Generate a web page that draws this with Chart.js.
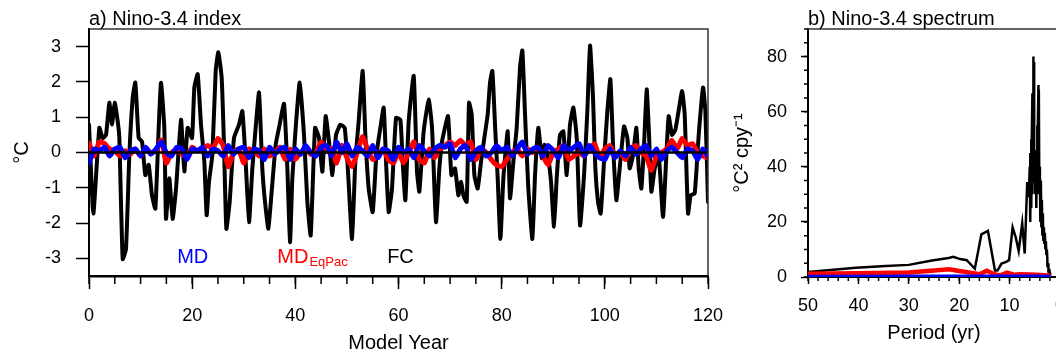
<!DOCTYPE html>
<html>
<head>
<meta charset="utf-8">
<script src="https://cdn.jsdelivr.net/npm/chart.js@4.4.1/dist/chart.umd.min.js"></script>
<style>
  html, body { margin: 0; padding: 0; background: #fff; overflow: hidden; width: 1056px; height: 355px; }
  #panelA { position: absolute; left: 0; top: 0; }
  #panelB { position: absolute; left: 720px; top: 0; }
</style>
</head>
<body>
<canvas id="panelA" width="730" height="355"></canvas>
<canvas id="panelB" width="400" height="355"></canvas>
<script>
// nino-3.4 index (a) and its spectrum (b)

const FONT = '"Liberation Sans", Arial, Helvetica, sans-serif';

const fcYears = [
    0.0, 0.84, 2.0, 2.65, 3.3, 3.94, 4.46, 4.98, 5.56, 5.88, 6.53, 7.17, 7.82, 8.47, 8.98, 9.63,
    10.28, 10.92, 11.57, 12.21, 12.86, 13.51, 13.96, 14.6, 14.93, 15.57, 16.22, 16.87, 17.84, 18.48,
    19.13, 19.97, 20.42, 21.07, 21.71, 22.36, 22.81, 23.26, 23.91, 24.56, 25.07, 25.72, 26.17, 26.63,
    27.27, 28.11, 29.08, 29.73, 30.37, 31.02, 31.67, 32.31, 32.96, 33.6, 34.12, 34.77, 35.41, 36.19,
    36.84, 37.81, 38.45, 38.97, 39.42, 40.07, 40.84, 41.68, 42.33, 42.98, 43.82, 44.59, 45.24, 45.88,
    46.53, 47.18, 47.89, 48.73, 49.57, 50.21, 50.99, 51.63, 52.28, 53.06, 53.57, 54.22, 55.0, 55.71,
    56.48, 57.13, 57.64, 58.1, 58.74, 59.52, 60.36, 60.81, 61.33, 61.98, 62.95, 63.59, 64.04, 64.88,
    65.85, 66.5, 67.27, 67.92, 68.44, 69.6, 70.25, 70.96, 71.6, 72.12, 72.57, 73.22, 73.67, 74.19,
    74.71, 75.35, 76.0, 76.64, 77.29, 77.74, 78.2, 78.71, 79.23, 79.75, 80.33, 81.17, 81.62, 82.27,
    82.91, 83.56, 84.01, 84.53, 85.17, 85.95, 86.47, 87.11, 87.76, 88.28, 88.92, 89.57, 90.15, 90.67,
    91.31, 91.96, 92.61, 93.25, 93.9, 94.55, 95.2, 95.97, 96.61, 97.13, 97.71, 98.16, 98.68, 99.2,
    99.84, 100.49, 101.07, 101.59, 102.24, 102.88, 103.72, 104.37, 104.82, 105.47, 106.11, 106.57,
    107.08, 107.6, 108.12, 108.57, 109.02, 109.67, 110.44, 111.28, 111.93, 112.38, 113.03, 113.67,
    114.19, 114.97, 115.48, 116.13, 116.65, 117.42, 118.2, 119.04, 119.49, 120.0
];
const fcIndex = [
    0.79, -1.73, 0.70, 0.41, 0.50, 1.41, 0.79, 1.41, 0.89, 0.41, -3.02, -2.73, -0.07, 1.55, 1.98, 0.41,
    0.31, -0.64, -0.35, -1.21, -1.59, 0.70, 1.98, 0.70, -1.88, -0.73, -1.88, -1.02, 0.93, -0.54,
    0.70, 0.41, 1.84, 2.22, 0.79, -0.26, -1.78, -0.83, -0.07, 2.31, 2.84, 2.12, 0.22, -2.16,
    -1.40, 0.41, 0.79, 1.17, -0.26, -1.97, -0.45, 0.70, 1.70, -0.45, -1.40, -2.16, -1.11, 0.22,
    0.70, 1.38, -0.45, -2.54, -0.73, 0.70, 1.98, 0.50, -1.40, -2.35, 0.70, 0.41, -0.54, 1.03,
    0.31, -0.64, 0.50, 0.79, 0.70, -0.54, -2.45, -0.26, 0.89, 2.31, 0.50, -1.02, -1.69, -0.07,
    0.70, 1.27, -0.45, -1.69, -1.02, 0.98, 0.93, -0.26, -1.35, 0.89, 2.17, -0.54, -1.11, 0.60,
    1.50, 0.70, -1.97, -0.45, 0.31, 1.03, -0.64, -0.45, -1.21, -0.83, -1.21, -1.40, 1.41, 1.08,
    -0.64, -1.02, -0.26, 0.41, 1.08, 1.98, 2.31, 0.79, -0.73, -2.45, -0.73, 0.60, -1.30, -0.26,
    0.70, 2.41, 2.89, 1.08, -1.02, -2.45, -0.64, 0.70, -0.16, 0.22, -0.07, -0.83, -2.10, -0.73,
    0.50, 0.60, -0.64, 0.79, 1.27, 0.41, -2.07, -0.64, 1.17, 3.03, 1.55, -0.45, -1.40, -1.73,
    -0.26, 1.17, 2.08, 0.22, -1.35, -0.45, 0.74, 0.41, -0.45, -0.07, 0.70, -0.45,
    -1.02, 0.22, 1.79, 0.50, -1.11, -0.45, -0.07, -1.83, -0.07, 1.03, 0.50, 0.65,
    1.08, 1.74, 1.08, -1.73, -1.21, -1.16, 0.50, 1.84, 1.17, -1.40
];

// MD runs, one reading per model year
const modelYears = Array.from({ length: 121 }, (_, i) => i);
const mdEqPacIndex = [
    0.27, -0.1, 0.3, 0.25, 0.1, 0.05, -0.1, 0.05, -0.05, 0.1,
    -0.1, 0.1, 0.0, 0.05, 0.35, -0.3, 0.0, 0.1, -0.05, -0.1,
    0.15, 0.05, 0.1, 0.2, 0.1, 0.4, 0.2, -0.4, 0.0, 0.1,
    -0.3, 0.1, 0.05, -0.1, 0.1, -0.1, 0.0, 0.15, -0.2, 0.1,
    -0.2, 0.0, 0.1, -0.05, 0.0, 0.3, 0.1, 0.1, -0.3, 0.2,
    -0.15, -0.4, 0.0, 0.45, 0.1, -0.2, -0.1, 0.1, -0.2, -0.3,
    0.0, -0.3, 0.0, 0.3, -0.2, -0.3, 0.1, -0.15, 0.1, 0.2,
    0.3, 0.2, 0.35, 0.2, 0.3, -0.2, 0.1, 0.0, -0.2, -0.35,
    -0.4, -0.2, 0.0, 0.1, -0.1, 0.1, 0.0, 0.1, -0.1, -0.35,
    0.0, 0.1, 0.2, -0.2, -0.1, 0.0, -0.1, 0.1, 0.25, -0.15,
    0.1, 0.2, -0.1, 0.0, -0.2, 0.1, 0.2, 0.0, -0.1, -0.5,
    -0.1, 0.0, 0.1, 0.35, 0.1, 0.4, 0.2, 0.25, 0.0, -0.1,
    -0.15
];
const mdIndex = [
    -0.3, 0.1, 0.05, 0.15, -0.1, 0.1, 0.15, -0.15, 0.05, 0.1,
    -0.1, 0.15, -0.05, 0.1, 0.3, 0.0, -0.1, 0.15, 0.1, -0.2,
    0.1, 0.05, 0.15, -0.1, 0.1, 0.05, -0.1, 0.2, -0.05, 0.1,
    0.15, -0.15, 0.1, 0.05, -0.2, 0.15, -0.05, 0.1, 0.15, -0.2,
    0.1, -0.05, 0.2, 0.0, -0.1, 0.15, 0.2, -0.1, 0.3, 0.0,
    0.25, -0.1, 0.15, 0.05, -0.1, 0.2, -0.15, 0.1, 0.05, -0.2,
    0.15, 0.0, 0.1, -0.15, 0.2, 0.05, -0.1, 0.1, 0.2, 0.15,
    0.25, -0.15, 0.1, 0.2, -0.2, 0.05, 0.15, -0.1, 0.0, 0.2,
    0.05, 0.15, -0.1, 0.1, 0.3, -0.05, 0.1, 0.15, -0.1, 0.2,
    0.05, -0.15, 0.2, 0.05, 0.15, 0.25, -0.1, 0.2, 0.0, -0.15,
    -0.2, 0.1, -0.15, 0.05, -0.1, 0.15, -0.05, 0.1, 0.2, -0.1,
    0.1, -0.2, 0.05, 0.15, 0.0, -0.15, 0.1, 0.05, -0.2, 0.1,
    -0.1
];
const indexTicks = [-3, -2, -1, 0, 1, 2, 3];

// ---- panel b: spectrum vs period (yr) ----
// short periods are crowded together, hence the dense black block at 3-6 yr
const fcPeriods = [
    1.9, 2.0, 2.1, 2.2, 2.3, 2.4, 2.5, 2.6, 2.7, 2.8, 2.9, 3.0, 3.1, 3.2, 3.3, 3.4, 3.5, 3.6, 3.7,
    3.8, 3.9, 4.0, 4.1, 4.2, 4.25, 4.3, 4.4, 4.5, 4.6, 4.7, 4.8, 4.9, 5.0, 5.1, 5.15, 5.2, 5.25,
    5.3, 5.4, 5.45, 5.5, 5.6, 5.7, 5.8, 5.9, 6.0, 6.2, 6.5, 7.0, 7.5, 8.2, 8.8, 9.4, 10.1, 10.7,
    11.6, 12.4, 12.9, 14.3, 15.6, 16.9, 18.5, 19.8, 21.2, 22.1, 25.4, 30.0, 34.6, 40.5, 50.0
];
const fcPower = [
    0.5, 1.5, 3, 2, 5, 4, 6, 10, 8, 13, 10, 16, 12, 18, 13, 23, 15, 28, 18,
    35, 20, 40, 30, 68, 35, 69.7, 55, 30, 46, 25, 45, 30, 40, 45, 78, 35, 80,
    40, 60, 30, 66.7, 50, 25, 45, 20, 40, 29, 34.5, 8.5, 19.5, 9.5, 14.5, 18, 6.1, 5.5,
    4.9, 2.4, 2.4, 16.7, 15.5, 3.0, 6.1, 6.5, 7.3, 6.9, 6.0, 4.4, 4.0, 3.4, 1.8
];
const eqPacPeriods = [1.9, 3, 4, 6, 8, 9, 10.5, 12, 13, 14.5, 16, 17.5, 20, 22, 25, 30, 40, 50];
const eqPacPower = [0.5, 0.6, 0.7, 0.9, 1.0, 0.8, 1.6, 0.5, 1.0, 2.3, 1.0, 1.5, 2.2, 2.8, 2.4, 1.6, 1.4, 1.2];
const mdPeriods = [1.9, 5, 10, 20, 30, 40, 50];
const mdPower = [0.1, 0.2, 0.15, 0.2, 0.15, 0.1, 0.1];
const powerTicks = [0, 20, 40, 60, 80];

const toPoints = (xs, ys) => xs.map((x, i) => ({ x: x, y: ys[i] }));

Chart.defaults.font.family = FONT;
Chart.defaults.color = '#000';
Chart.defaults.animation = false;


// small outward ticks between the labelled ones
const minorTicks = {
    id: 'minorTicks',
    afterDraw(chart, args, opts) {
        const ctx = chart.ctx;
        ctx.save();
        ctx.strokeStyle = '#000';
        ctx.lineWidth = 1.5;
        ['x', 'y'].forEach(id => {
            const o = opts[id];
            if (!o) return;
            const sc = chart.scales[id];
            ctx.beginPath();
            for (let v = sc.min; v <= sc.max + 1e-9; v += o.step) {
                const p = sc.getPixelForValue(v);
                if (id === 'x') { ctx.moveTo(p, sc.top); ctx.lineTo(p, sc.top + o.len); }
                else { ctx.moveTo(sc.right, p); ctx.lineTo(sc.right - o.len, p); }
            }
            ctx.stroke();
        });
        ctx.restore();
    }
};

// top + right edges of the plot box
const frame = {
    id: 'frame',
    afterDraw(chart) {
        const { ctx, chartArea: { left, top, right, bottom } } = chart;
        ctx.save();
        ctx.strokeStyle = '#333';
        ctx.lineWidth = 1.5;
        ctx.beginPath();
        ctx.moveTo(left, top);
        ctx.lineTo(right, top);
        ctx.lineTo(right, bottom);
        ctx.stroke();
        ctx.restore();
    }
};

// zero reference line over the series
const zeroLine = {
    id: 'zeroLine',
    afterDatasetsDraw(chart, args, opts) {
        if (!opts.show) return;
        const { ctx, chartArea: { left, right } } = chart;
        const y = chart.scales.y.getPixelForValue(0);
        ctx.save();
        ctx.strokeStyle = '#000';
        ctx.lineWidth = 2.5;
        ctx.beginPath();
        ctx.moveTo(left, y);
        ctx.lineTo(right, y);
        ctx.stroke();
        ctx.restore();
    }
};

// panel title and in-plot labels (with subscript)
const panelText = {
    id: 'panelText',
    afterDraw(chart, args, opts) {
        const { ctx, chartArea } = chart;
        ctx.save();
        ctx.textAlign = 'left';
        ctx.textBaseline = 'alphabetic';
        ctx.fillStyle = '#000';
        ctx.font = '20px ' + FONT;
        ctx.fillText(opts.title, chartArea.left, chartArea.top - 4);
        (opts.labels || []).forEach(l => {
            const x = chart.scales.x.getPixelForValue(l.x);
            const y = chart.scales.y.getPixelForValue(l.y);
            ctx.fillStyle = l.color;
            ctx.font = '20px ' + FONT;
            ctx.fillText(l.text, x, y);
            if (l.sub) {
                const w = ctx.measureText(l.text).width;
                ctx.font = '13px ' + FONT;
                ctx.fillText(l.sub, x + w + 1, y + 3);
            }
        });
        ctx.restore();
    }
};

function fixBox(w, h) {
    return function (scale) {
        if (w !== null) scale.width = w;
        if (h !== null) scale.height = h;
        scale.paddingLeft = 0; scale.paddingRight = 0;
        scale.paddingTop = 0; scale.paddingBottom = 0;
    };
}


// panel a
new Chart(document.getElementById('panelA'), {
    type: 'line',
    data: {
        datasets: [
            { label: 'MD', data: toPoints(modelYears, mdIndex), borderColor: '#0000ff', borderWidth: 5, order: 1 },
            { label: 'MD EqPac', data: toPoints(modelYears, mdEqPacIndex), borderColor: '#ff0000', borderWidth: 5, order: 2 },
            { label: 'FC', data: toPoints(fcYears, fcIndex), borderColor: '#000', borderWidth: 4, order: 3 }
        ]
    },
    options: {
        responsive: false,
        events: [],
        layout: { padding: { top: 29, right: 22, left: 0, bottom: 0 } },
        elements: { point: { radius: 0 }, line: { tension: 0.15, borderJoinStyle: 'round', borderCapStyle: 'round' } },
        scales: {
            x: {
                type: 'linear', min: 0, max: 120,
                ticks: { stepSize: 20, font: { size: 18 }, padding: 16, maxRotation: 0 },
                grid: { drawOnChartArea: false, tickLength: 13, tickColor: '#000', tickWidth: 1.5 },
                border: { color: '#000', width: 2.5 },
                title: { display: true, text: 'Model Year', font: { size: 20 }, padding: { top: 0, bottom: 0 } },
                afterFit: fixBox(null, 79)
            },
            y: {
                type: 'linear', min: -3.5, max: 3.5,
                afterBuildTicks: axis => { axis.ticks = indexTicks.map(v => ({ value: v })); },
                ticks: { font: { size: 18 }, padding: 15 },
                grid: { drawOnChartArea: false, tickLength: 13, tickColor: '#000', tickWidth: 1.5 },
                border: { color: '#000', width: 2 },
                title: { display: true, text: '°C', font: { size: 20 }, padding: { top: 10, bottom: 0 } },
                afterFit: fixBox(89, null)
            }
        },
        plugins: {
            legend: { display: false },
            tooltip: { enabled: false },
            minorTicks: { x: { step: 5, len: 8 } },
            zeroLine: { show: true },
            panelText: {
                title: 'a) Nino-3.4 index',
                labels: [
                    { text: 'MD', color: '#0000ff', x: 17.1, y: -3.12 },
                    { text: 'MD', sub: 'EqPac', color: '#ff0000', x: 36.5, y: -3.12 },
                    { text: 'FC', color: '#000', x: 57.8, y: -3.12 }
                ]
            }
        }
    },
    plugins: [minorTicks, frame, zeroLine, panelText]
});

// panel b (runs off the right edge of the page, as in the original)
new Chart(document.getElementById('panelB'), {
    type: 'line',
    data: {
        datasets: [
            { label: 'MD', data: toPoints(mdPeriods, mdPower), borderColor: '#0000ff', borderWidth: 4, order: 1 },
            { label: 'MD EqPac', data: toPoints(eqPacPeriods, eqPacPower), borderColor: '#ff0000', borderWidth: 4.5, order: 2 },
            { label: 'FC', data: toPoints(fcPeriods, fcPower), borderColor: '#000', borderWidth: 2.5, order: 3 }
        ]
    },
    options: {
        responsive: false,
        events: [],
        layout: { padding: { top: 29, right: 60, left: 0, bottom: 0 } },
        elements: { point: { radius: 0 }, line: { tension: 0, borderJoinStyle: 'miter' } },
        scales: {
            x: {
                type: 'linear', min: 0, max: 50, reverse: true,
                ticks: { stepSize: 10, font: { size: 18 }, padding: 11, maxRotation: 0 },
                grid: { drawOnChartArea: false, tickLength: 7, tickColor: '#000', tickWidth: 1.5 },
                border: { color: '#000', width: 2 },
                title: { display: true, text: 'Period (yr)', font: { size: 20 }, padding: { top: 0, bottom: 10 } },
                afterFit: fixBox(null, 78)
            },
            y: {
                type: 'linear', min: 0, max: 90,
                afterBuildTicks: axis => { axis.ticks = powerTicks.map(v => ({ value: v })); },
                ticks: { font: { size: 18 }, padding: 14 },
                grid: { drawOnChartArea: false, tickLength: 7, tickColor: '#000', tickWidth: 1.5 },
                border: { color: '#000', width: 2 },
                title: { display: true, text: '°C² cpy⁻¹', font: { size: 20 }, padding: { top: 10, bottom: 0 } },
                afterFit: fixBox(88, null)
            }
        },
        plugins: {
            legend: { display: false },
            tooltip: { enabled: false },
            minorTicks: { x: { step: 2, len: 4 }, y: { step: 5, len: 4 } },
            zeroLine: { show: false },
            panelText: { title: 'b) Nino-3.4 spectrum' }
        }
    },
    plugins: [minorTicks, frame, zeroLine, panelText]
});
</script>
</body>
</html>
